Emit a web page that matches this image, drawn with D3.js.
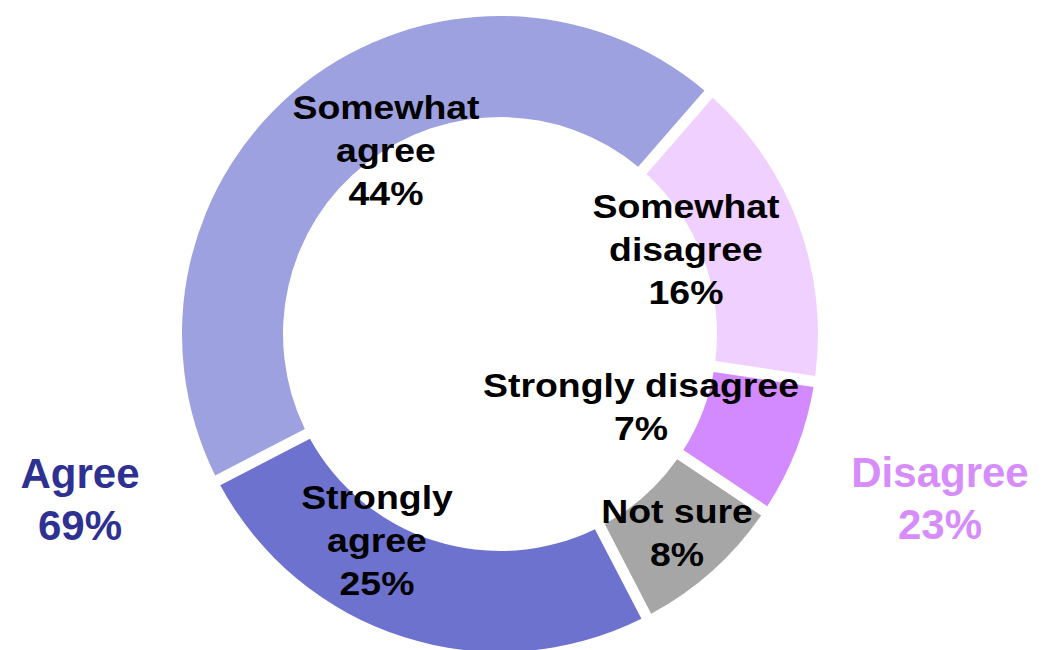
<!DOCTYPE html>
<html>
<head>
<meta charset="utf-8">
<script src="https://cdn.jsdelivr.net/npm/d3@7"></script>
<style>
  html, body { margin: 0; padding: 0; background: #fff; }
  svg { display: block; }
  text { font-family: "Liberation Sans", Arial, Helvetica, sans-serif; font-weight: bold; }
</style>
</head>
<body>
<svg id="chart" width="1051" height="650"></svg>
<script>
// Data (clockwise from the top-right gap)
const categories = ["Somewhat disagree", "Strongly disagree", "Not sure", "Strongly agree", "Somewhat agree"];
const values = [16, 7, 8, 25, 44];
const labelLines = [
  ["Somewhat", "disagree", "16%"],
  ["Strongly disagree", "7%"],
  ["Not sure", "8%"],
  ["Strongly", "agree", "25%"],
  ["Somewhat", "agree", "44%"]
];
const colors = ["#efd0ff", "#d48aff", "#a6a6a6", "#6d72cf", "#9da1df"];
const groupLabels = ["Agree", "Disagree"];
const groupValues = ["69%", "23%"];
const groupColors = ["#2e3192", "#d68cfa"];

const svg = d3.select("#chart");
const cx = 500, cy = 334;
const outerR = 318, innerR = 217;
const startDeg = 41;

const pie = d3.pie().sort(null).value(d => d)
  .startAngle(startDeg * Math.PI / 180)
  .endAngle(startDeg * Math.PI / 180 + 2 * Math.PI);
const arcs = pie(values);

const arc = d3.arc()
  .innerRadius(innerR)
  .outerRadius(outerR)
  .padRadius(outerR)
  .padAngle(11 / outerR);

const g = svg.append("g").attr("transform", `translate(${cx},${cy})`);
g.selectAll("path.slice")
  .data(arcs)
  .join("path")
  .attr("class", "slice")
  .attr("d", arc)
  .attr("fill", (d, i) => colors[i]);

// Label anchor positions (x center, first baseline) relative to the page
const labelPos = [
  [686, 218],
  [641, 397],
  [677, 523],
  [377, 509],
  [386, 119]
];
const lineH = 43;
const fontSize = 34;

labelPos.forEach((p, i) => {
  const t = svg.append("text")
    .attr("transform", `translate(${p[0]},${p[1]}) scale(1.1,1)`)
    .attr("text-anchor", "middle")
    .attr("font-size", fontSize)
    .attr("fill", "#000");
  labelLines[i].forEach((line, j) => {
    t.append("tspan").attr("x", 0).attr("y", j * lineH).text(line);
  });
});

// Group labels
const groupPos = [[80, 488], [940, 487]];
groupPos.forEach((p, i) => {
  const t = svg.append("text")
    .attr("text-anchor", "middle")
    .attr("font-size", 42)
    .attr("fill", groupColors[i]);
  t.append("tspan").attr("x", p[0]).attr("y", p[1]).text(groupLabels[i]);
  t.append("tspan").attr("x", p[0]).attr("y", p[1] + 52).text(groupValues[i]);
});
</script>
</body>
</html>
